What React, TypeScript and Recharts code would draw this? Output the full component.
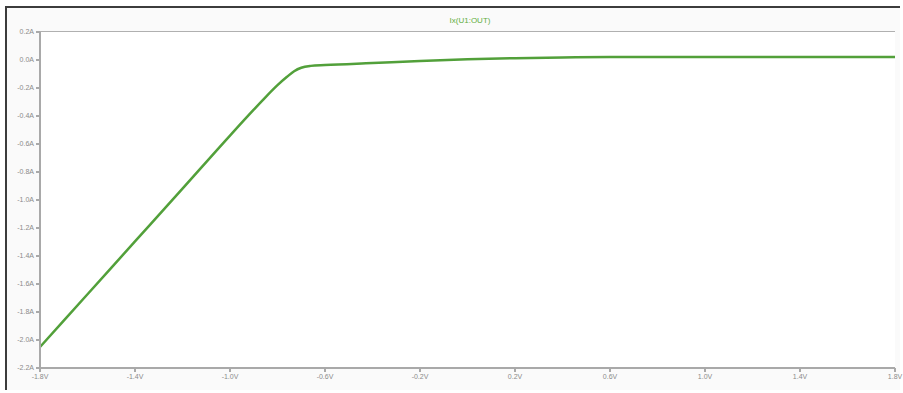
import React from "react";
import { LineChart, Line, XAxis, YAxis, CartesianGrid } from "recharts";

const voltages = [-1.8, -1.6, -1.4, -1.2, -1.0, -0.9, -0.85, -0.8, -0.76, -0.73, -0.7, -0.66, -0.6, -0.4, -0.2, 0.0, 0.2, 0.4, 0.6, 1.0, 1.4, 1.8];
const currents = [-2.05, -1.673, -1.296, -0.919, -0.54, -0.355, -0.265, -0.18, -0.12, -0.08, -0.055, -0.042, -0.036, -0.022, -0.008, 0.005, 0.013, 0.018, 0.021, 0.022, 0.022, 0.022];
const xTicks = [-1.8, -1.4, -1.0, -0.6, -0.2, 0.2, 0.6, 1.0, 1.4, 1.8];
const yTicks = [0.2, 0.0, -0.2, -0.4, -0.6, -0.8, -1.0, -1.2, -1.4, -1.6, -1.8, -2.0, -2.2];
const title = "Ix(U1:OUT)";

const data = voltages.map((v, i) => ({ v, i: currents[i] }));

const axisColor = "#a9a9a9";
const tickText = { fontSize: 7, fill: "#8a8a8a", fontFamily: "Liberation Sans, Arial, sans-serif" };

export default function App() {
  return (
    <div style={{ position: "absolute", left: 0, top: 0, width: 903, height: 393, background: "#ffffff", overflow: "hidden" }}>
      <div style={{ position: "absolute", left: 5, top: 6, width: 893, height: 382, borderLeft: "2px solid #3c3c3c", borderTop: "2px solid #3c3c3c", background: "#fafafa" }} />
      <div style={{ position: "absolute", left: 40, top: 31, width: 855, height: 338, border: "1px solid #b0b0b0", boxSizing: "border-box", background: "#ffffff" }} />
      <div style={{ position: "absolute", left: 0, top: 16, width: 940, textAlign: "center", fontSize: 8, color: "#5fae3e", fontFamily: "Liberation Sans, Arial, sans-serif" }}>{title}</div>
      <div style={{ position: "absolute", left: 0, top: 0 }}>
        <LineChart width={903} height={393} data={data} margin={{ top: 32, right: 8, bottom: 0, left: 4 }}>
          <CartesianGrid horizontal={false} vertical={false} fill="#ffffff" />
          <XAxis
            dataKey="v"
            type="number"
            domain={[-1.8, 1.8]}
            ticks={xTicks}
            tickFormatter={(t: number) => `${t.toFixed(1)}V`}
            height={25}
            stroke={axisColor}
            strokeWidth={2}
            tickSize={4}
            tick={tickText}
            interval={0}
            allowDataOverflow
          />
          <XAxis xAxisId="top" orientation="top" dataKey="v" type="number" domain={[-1.8, 1.8]} height={0} tick={false} tickLine={false} stroke={axisColor} strokeWidth={2} />
          <YAxis
            type="number"
            domain={[-2.2, 0.2]}
            ticks={yTicks}
            tickFormatter={(t: number) => `${t.toFixed(1)}A`}
            width={36}
            stroke={axisColor}
            strokeWidth={2}
            tickSize={4}
            tick={tickText}
            interval={0}
            allowDataOverflow
          />
          <YAxis yAxisId="right" orientation="right" type="number" domain={[-2.2, 0.2]} width={0} tick={false} tickLine={false} stroke={axisColor} strokeWidth={2} />
          <Line type="monotone" dataKey="i" stroke="#52a03a" strokeWidth={2.5} dot={false} isAnimationActive={false} />
        </LineChart>
      </div>
    </div>
  );
}
